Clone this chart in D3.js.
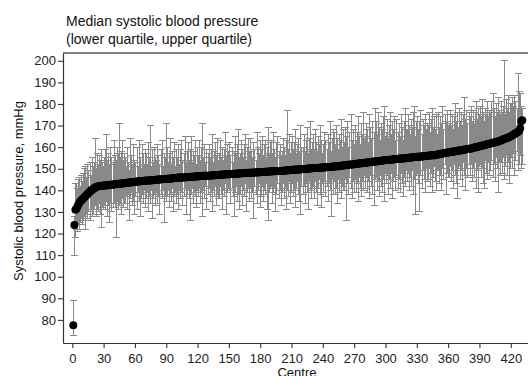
<!DOCTYPE html>
<html>
<head>
<meta charset="utf-8">
<script src="https://cdn.jsdelivr.net/npm/d3@7"></script>
<style>
  body { margin: 0; background: #fff; }
  text { font-family: Arial, "Liberation Sans", Helvetica, sans-serif; }
</style>
</head>
<body>
<svg id="chart" width="528" height="376"></svg>
<script>
// titles and tick labels
var titleLines = ['Median systolic blood pressure', '(lower quartile, upper quartile)'];
var xLabel = 'Centre';
var yLabel = 'Systolic blood pressure, mmHg';
var xTicks = [0, 30, 60, 90, 120, 150, 180, 210, 240, 270, 300, 330, 360, 390, 420];
var yTicks = [80, 90, 100, 110, 120, 130, 140, 150, 160, 170, 180, 190, 200];

// median per centre, ranked (centre 1..431)
var median = [
  77.5,124,131,131.5,132.5,133.5,134.5,135,135.5,136,
  136.5,137,137.5,138,138.5,139,139.5,140,140.3,140.6,
  141,141.3,141.5,141.7,141.9,
  142.0,142.0,142.1,142.1,142.2,142.2,142.3,142.3,142.4,142.5,
  142.5,142.6,142.6,142.7,142.7,142.8,142.9,142.9,143.0,143.0,143.1,143.2,143.2,143.3,143.3,143.4,143.5,143.5,143.6,143.6,143.7,143.8,143.8,143.9,144.0,
  144.0,144.1,144.1,144.2,144.2,144.2,144.3,144.3,144.4,144.4,144.5,144.5,144.6,144.6,144.6,144.7,144.7,144.8,144.8,144.9,
  144.9,145.0,145.0,145.0,145.1,145.1,145.2,145.2,145.3,145.3,145.4,145.4,145.4,145.5,145.5,145.6,145.6,145.7,145.7,145.8,
  145.8,145.9,145.9,145.9,146.0,146.0,146.0,146.1,146.1,146.1,146.2,146.2,146.2,146.3,146.3,146.3,146.4,146.4,146.4,146.5,
  146.5,146.5,146.6,146.6,146.6,146.7,146.7,146.7,146.8,146.8,146.8,146.9,146.9,146.9,147.0,147.0,147.0,147.1,147.1,147.1,
  147.2,147.2,147.2,147.3,147.3,147.3,147.4,147.4,147.4,147.5,
  147.5,147.6,147.6,147.6,147.7,147.7,147.7,147.8,147.8,147.8,147.9,147.9,147.9,148.0,148.0,148.0,148.0,148.1,148.1,148.1,
  148.2,148.2,148.2,148.3,148.3,148.3,148.3,148.4,148.4,148.4,148.5,148.5,148.5,148.6,148.6,148.6,148.6,148.7,148.7,148.7,
  148.8,148.8,148.8,148.8,148.9,148.9,148.9,149.0,149.0,149.0,
  149.1,149.1,149.1,149.2,149.2,149.3,149.3,149.3,149.4,149.4,149.5,149.5,149.5,149.6,149.6,149.7,149.7,149.7,149.8,149.8,
  149.9,149.9,149.9,150.0,150.0,150.1,150.1,150.1,150.2,150.2,150.3,150.3,150.3,150.4,150.4,150.5,150.5,150.5,150.6,150.6,
  150.6,150.7,150.7,150.7,150.8,150.8,150.8,150.9,150.9,150.9,
  151.0,151.1,151.1,151.2,151.2,151.3,151.4,151.4,151.5,151.5,151.6,151.7,151.7,151.8,151.8,151.9,152.0,152.0,152.1,152.1,
  152.2,152.3,152.3,152.4,152.4,152.5,152.6,152.6,152.7,152.7,152.8,152.9,152.9,153.0,153.0,153.1,153.2,153.2,153.3,153.3,
  153.4,153.5,153.5,153.6,153.6,153.7,153.8,153.8,153.9,154.0,
  154.0,154.1,154.1,154.2,154.2,154.3,154.3,154.4,154.4,154.5,154.5,154.6,154.6,154.7,154.7,154.8,154.8,154.9,154.9,155.0,
  155.0,155.1,155.1,155.2,155.2,155.3,155.3,155.4,155.4,155.5,155.5,155.6,155.6,155.7,155.7,155.8,155.8,155.9,155.9,156.0,
  156.0,156.1,156.1,156.2,156.2,156.3,156.3,156.4,156.5,156.6,
  156.7,156.8,156.9,157.0,157.1,157.2,157.3,157.4,157.4,157.5,157.6,157.7,157.8,157.9,158.0,158.0,158.1,158.2,158.3,158.4,
  158.5,158.5,158.6,158.7,158.8,158.9,159.0,159.0,159.1,159.2,
  159.3,159.4,159.5,159.6,159.8,159.9,160.0,160.1,160.3,160.4,160.5,160.6,160.8,160.9,161.0,161.1,161.3,161.4,161.5,161.6,
  161.8,161.9,162.0,162.1,162.3,162.4,162.5,162.6,162.8,163.0,
  163.2,163.4,163.6,163.8,164.0,164.2,164.4,164.6,164.8,165.0,
  165.3,165.6,165.9,166.2,166.5,166.8,167.1,167.5,168.7,172.0,172.5
];

// lower quartile per centre
var lower = [
  73,110,118,122,121,124,122,125,127,124,
  126,128,122,129,127,130,126,131,128,129,
  131,133,128,131,130,134,129,123,132,131,
  133,131,135,128,133,125,134,130,132,134,
  132,118,135,131,133,134,129,136,132,134,
  134,137,131,138,126,136,139,133,135,129,
  137,131,139,135,128,136,138,134,140,132,
  136,139,130,137,134,140,127,136,138,133,
  139,134,137,129,138,136,140,125,137,135,
  137,140,132,138,135,141,130,137,139,134,
  138,131,140,136,139,133,137,141,129,138,
  140,136,126,138,141,134,139,137,132,140,
  137,141,134,139,128,140,136,142,131,138,
  141,135,139,130,140,137,142,133,138,136,
  136,142,138,131,140,137,143,129,139,141,
  140,134,141,137,128,139,142,135,138,131,
  138,142,133,140,137,143,130,139,141,135,
  141,136,139,127,142,138,134,140,143,132,
  137,142,135,140,138,143,131,126,139,141,
  142,134,139,141,130,138,143,136,140,133,
  139,143,136,141,131,140,137,144,134,139,
  143,137,140,132,141,144,138,135,129,142,
  138,142,134,143,139,131,144,140,136,141,
  142,136,144,139,133,141,145,138,132,143,
  139,144,137,142,135,143,140,128,145,138,
  144,138,141,134,145,139,143,136,142,140,
  140,145,126,143,138,146,141,136,144,139,
  145,139,143,135,146,141,137,144,140,147,
  141,146,139,144,136,147,142,138,133,145,
  146,140,144,137,147,142,139,145,135,148,
  143,147,138,145,141,148,136,144,146,140,
  147,141,145,139,148,143,137,146,142,149,
  144,148,140,146,142,149,138,145,129,147,
  148,143,130,147,141,149,145,139,150,144,
  145,150,142,148,139,146,151,144,140,149,
  149,143,147,140,150,145,152,138,148,146,
  146,151,144,149,141,152,147,143,136,150,
  151,145,149,142,153,147,140,150,146,152,
  147,152,144,150,146,153,141,149,139,151,
  152,146,150,143,141,154,148,145,153,147,
  149,154,146,152,144,155,150,139,153,147,
  153,148,155,145,151,156,147,153,143,150,
  155,150,157,147,154,158,149,152,156,150,
  152
];

// upper quartile per centre
var upper = [
  89,128,143,143,141,145,146,142,147,144,
  148,150,151,146,152,149,153,147,155,151,
  153,164,150,157,152,156,154,159,153,151,
  155,159,166,154,157,152,160,155,153,163,
  156,154,160,157,171,155,158,163,154,157,
  155,151,160,153,149,164,156,152,161,154,
  153,160,151,163,155,150,161,157,152,159,
  157,152,162,155,170,151,159,153,160,155,
  154,161,156,152,159,163,151,157,155,171,
  160,153,157,164,152,158,155,162,151,159,
  155,161,152,159,163,154,157,165,153,158,
  162,154,159,165,153,158,156,163,152,160,
  156,163,154,160,171,155,161,153,159,157,
  161,155,159,166,153,158,162,156,164,154,
  157,163,155,160,154,159,167,156,161,158,
  162,156,160,153,158,165,157,161,168,155,
  157,163,159,155,161,166,154,160,164,158,
  164,158,155,162,159,154,167,160,157,163,
  159,165,156,161,163,155,160,169,157,162,
  163,157,167,159,155,162,165,158,161,156,
  158,164,160,156,163,177,159,166,157,162,
  165,159,162,168,157,161,164,158,170,160,
  160,166,158,163,169,157,164,172,159,162,
  166,159,168,162,158,165,161,170,163,157,
  161,167,163,159,166,162,172,158,164,168,
  167,161,170,164,159,166,163,173,160,168,
  162,169,165,172,160,167,175,163,168,161,
  170,163,167,174,165,161,171,166,176,164,
  165,171,168,162,175,169,164,172,167,178,
  172,166,176,169,163,171,168,174,179,165,
  167,173,164,170,176,166,172,168,174,163,
  173,167,171,165,175,169,163,172,178,168,
  168,175,170,166,173,169,176,179,165,172,
  174,168,172,177,166,173,170,175,168,171,
  170,176,167,173,178,169,174,168,175,166,
  176,169,174,171,179,168,175,172,177,170,
  171,177,170,175,168,174,180,172,176,169,
  178,172,176,170,175,183,173,177,171,176,
  174,179,172,177,171,176,181,173,178,175,
  179,174,182,176,172,178,175,181,174,177,
  176,181,185,178,174,180,176,183,177,175,
  181,176,179,200,175,182,178,184,176,180,
  180,183,179,184,181,178,194,186,185,179,
  178
];

var plotLeft = 63, plotRight = 528, plotTop = 53, plotBottom = 343;

var svg = d3.select('#chart');

var x = d3.scaleLinear().domain([-8.9, 436.5]).range([plotLeft, plotRight]);
var y = d3.scaleLinear().domain([69.3, 203.6]).range([plotBottom, plotTop]);

var rows = median.map(function (m, i) {
  return { centre: i + 1, median: m, lower: lower[i], upper: upper[i] };
});

var barColor = '#898989';
var capHalf = 3.5;

// error bars
var bars = svg.append('g').attr('class', 'bars')
  .attr('stroke', barColor)
  .attr('stroke-width', 1)
  .attr('shape-rendering', 'crispEdges')
  .attr('fill', 'none');

bars.selectAll('line.v')
  .data(rows)
  .enter().append('line')
  .attr('class', 'v')
  .attr('x1', function (d) { return x(d.centre); })
  .attr('x2', function (d) { return x(d.centre); })
  .attr('y1', function (d) { return y(d.lower); })
  .attr('y2', function (d) { return y(d.upper); });

bars.selectAll('line.lo')
  .data(rows)
  .enter().append('line')
  .attr('class', 'lo')
  .attr('x1', function (d) { return x(d.centre) - capHalf; })
  .attr('x2', function (d) { return x(d.centre) + capHalf; })
  .attr('y1', function (d) { return y(d.lower); })
  .attr('y2', function (d) { return y(d.lower); });

bars.selectAll('line.hi')
  .data(rows)
  .enter().append('line')
  .attr('class', 'hi')
  .attr('x1', function (d) { return x(d.centre) - capHalf; })
  .attr('x2', function (d) { return x(d.centre) + capHalf; })
  .attr('y1', function (d) { return y(d.upper); })
  .attr('y2', function (d) { return y(d.upper); });

// medians
svg.append('g').attr('class', 'medians')
  .selectAll('circle')
  .data(rows)
  .enter().append('circle')
  .attr('cx', function (d) { return x(d.centre); })
  .attr('cy', function (d) { return y(d.median); })
  .attr('r', 4)
  .attr('fill', '#000');

// axes
var yAxis = d3.axisLeft(y).tickValues(yTicks).tickSize(5).tickSizeOuter(0).tickPadding(2);
var xAxis = d3.axisBottom(x).tickValues(xTicks).tickSize(5).tickSizeOuter(0).tickPadding(6);

var gy = svg.append('g').attr('transform', 'translate(' + plotLeft + ',0)').call(yAxis);
var gx = svg.append('g').attr('transform', 'translate(0,' + plotBottom + ')').call(xAxis);

[gy, gx].forEach(function (g) {
  g.select('.domain').attr('stroke', '#333').attr('stroke-width', 1.2);
  g.selectAll('.tick line').attr('stroke', '#333').attr('stroke-width', 1.1);
  g.selectAll('.tick text')
    .attr('fill', '#222')
    .style('font-size', '13px')
    .style('font-family', 'Arial, "Liberation Sans", Helvetica, sans-serif');
});

// top border
svg.append('line')
  .attr('x1', plotLeft).attr('x2', plotRight)
  .attr('y1', plotTop).attr('y2', plotTop)
  .attr('stroke', '#555').attr('stroke-width', 1.3);

// titles
svg.append('g').selectAll('text')
  .data(titleLines)
  .enter().append('text')
  .attr('x', 66)
  .attr('y', function (d, i) { return 26 + i * 18; })
  .attr('fill', '#111')
  .style('font-size', '14px')
  .text(function (d) { return d; });

svg.append('text')
  .attr('x', 297).attr('y', 377)
  .attr('text-anchor', 'middle')
  .attr('fill', '#111')
  .style('font-size', '13px')
  .text(xLabel);

svg.append('text')
  .attr('transform', 'translate(23,191) rotate(-90)')
  .attr('text-anchor', 'middle')
  .attr('fill', '#111')
  .style('font-size', '13px')
  .text(yLabel);
</script>
</body>
</html>
